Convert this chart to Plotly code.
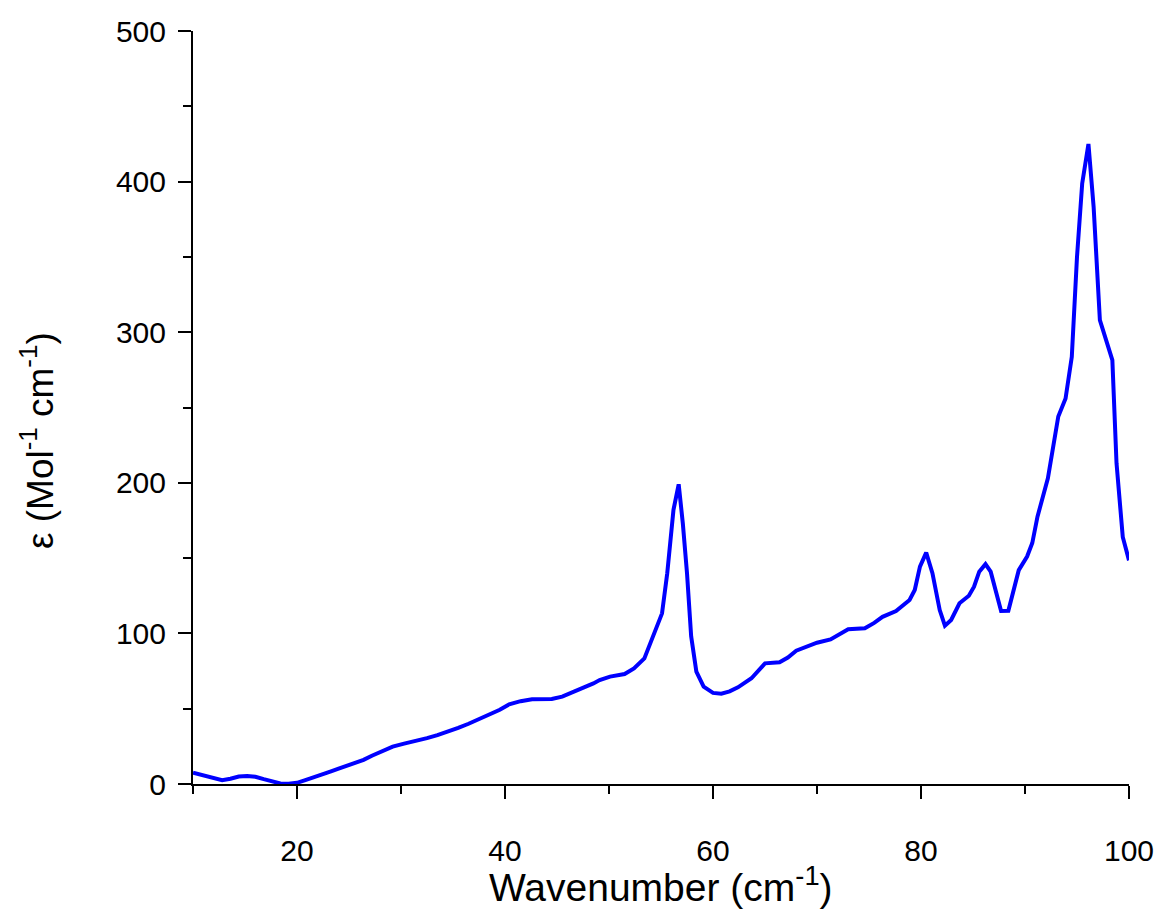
import plotly.graph_objects as go

# Molar absorptivity spectrum (far-IR / THz region)
wavenumber = [
    10.0, 11.0, 12.0, 12.8, 13.6, 14.4, 15.2, 16.0, 16.8, 17.6,
    18.4, 19.2, 20.0, 20.8, 21.6, 22.4, 23.2, 24.0, 24.8, 25.6,
    26.4, 27.2, 28.2, 29.2, 30.3, 31.3, 32.5, 33.5, 34.5, 35.5,
    36.5, 37.5, 38.5, 39.5, 40.4, 41.5, 42.6, 43.5, 44.5, 45.5,
    46.5, 47.5, 48.5, 49.1, 50.1, 51.5, 52.4, 53.4, 54.4, 55.1,
    55.6, 56.2, 56.7, 57.1, 57.5, 57.9, 58.4, 59.1, 60.0, 60.8,
    61.6, 62.4, 63.7, 65.0, 66.4, 67.2, 68.0, 69.0, 70.0, 71.3,
    72.2, 73.0, 74.6, 75.5, 76.3, 77.6, 78.9, 79.4, 79.9, 80.5,
    81.1, 81.8, 82.3, 82.9, 83.7, 84.6, 85.1, 85.6, 86.2, 86.7,
    87.7, 88.4, 89.4, 90.2, 90.7, 91.2, 92.2, 93.2, 93.9, 94.5,
    95.0, 95.5, 96.1, 96.6, 97.2, 98.4, 98.8, 99.4, 100.0,
]
epsilon = [
    7.5, 5.5, 3.5, 2.5, 3.5, 5.0, 5.3, 4.8, 3.2, 1.6,
    0.4, 0.1, 0.8, 2.6, 4.3, 6.0, 8.2, 10.2, 12.0, 13.8,
    16.0, 18.8, 21.8, 24.8, 26.8, 28.3, 30.5, 32.5, 34.6, 37.3,
    40.0, 43.0, 46.0, 49.3, 52.9, 55.0, 56.3, 56.6, 56.4, 58.0,
    60.8, 63.5, 66.8, 69.0, 71.3, 73.0, 76.8, 83.4, 100.0, 113.3,
    140.0, 182.0, 199.0, 173.0, 140.0, 98.0, 74.6, 64.6, 60.5, 60.0,
    61.5, 64.2, 70.2, 80.1, 80.8, 84.0, 88.5, 91.5, 93.8, 96.0,
    99.5, 102.7, 103.4, 107.0, 111.0, 114.9, 122.2, 128.8, 144.3, 153.6,
    140.0, 115.5, 105.1, 108.9, 120.0, 125.0, 131.0, 141.0, 146.0, 141.0,
    114.9, 115.0, 142.0, 151.0, 160.0, 177.5, 203.0, 244.0, 256.0, 283.7,
    350.0, 398.8, 425.0, 383.0, 308.0, 281.5, 213.0, 164.0, 148.5,
]

x_tickvals = [20, 40, 60, 80, 100]
y_tickvals = [0, 100, 200, 300, 400, 500]

FONT = "Liberation Sans, Arial, sans-serif"

fig = go.Figure()
fig.add_trace(go.Scatter(
    x=wavenumber, y=epsilon, mode="lines",
    line=dict(color="#0000FF", width=4),
    showlegend=False,
))

axis_common = dict(
    showline=True, linecolor="black", linewidth=2, mirror=False,
    showgrid=False, zeroline=False, automargin=False,
    ticks="outside", ticklen=13, tickwidth=2, tickcolor="black",
    tickfont=dict(family=FONT, size=30, color="black"),
)

fig.update_xaxes(
    range=[10, 100], tickvals=x_tickvals,
    minor=dict(dtick=10, tick0=0, ticklen=8, tickwidth=2, tickcolor="black", ticks="outside"),
    ticklabelstandoff=26,
    **axis_common,
)
fig.update_yaxes(
    range=[0, 500], tickvals=y_tickvals,
    minor=dict(dtick=50, tick0=0, ticklen=8, tickwidth=2, tickcolor="black", ticks="outside"),
    ticklabelstandoff=6,
    **axis_common,
)

fig.add_annotation(
    text="Wavenumber (cm<sup>-1</sup>)", xref="paper", yref="paper",
    x=0.5, y=0, xanchor="center", yanchor="middle", yshift=-100,
    showarrow=False, font=dict(family=FONT, size=39, color="black"),
)
fig.add_annotation(
    text="ε (Mol<sup>-1</sup> cm<sup>-1</sup>)", xref="paper", yref="paper",
    x=0, y=0.4555, xanchor="center", yanchor="middle", xshift=-156,
    textangle=-90, showarrow=False, font=dict(family=FONT, size=37, color="black"),
)

fig.update_layout(
    width=1159, height=914,
    margin=dict(l=193, r=30, t=31, b=130, autoexpand=False),
    plot_bgcolor="white", paper_bgcolor="white",
)

fig.write_html("out.html")
